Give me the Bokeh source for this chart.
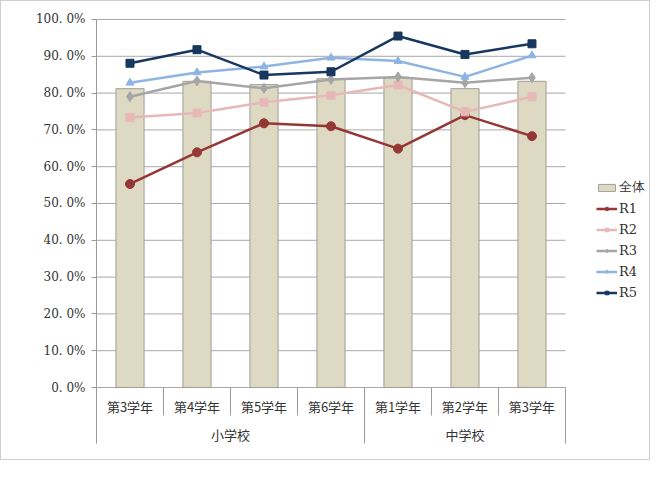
from bokeh.plotting import figure
from bokeh.models import Range1d, FixedTicker, Legend, LegendItem
from bokeh.core.properties import value
from bokeh.embed import file_html
from bokeh.resources import INLINE

# ---- data ----
groups = ["小学校", "小学校", "小学校", "小学校", "中学校", "中学校", "中学校"]
grades = ["第3学年", "第4学年", "第5学年", "第6学年", "第1学年", "第2学年", "第3学年"]
group_names = ["小学校", "中学校"]
total = [81.2, 83.2, 82.3, 83.9, 84.1, 81.2, 83.2]
r1 = [55.3, 63.9, 71.8, 71.0, 64.9, 74.0, 68.3]
r2 = [73.4, 74.6, 77.5, 79.4, 82.2, 74.9, 79.0]
r3 = [79.0, 83.3, 81.3, 83.7, 84.4, 82.8, 84.2]
r4 = [82.8, 85.6, 87.2, 89.6, 88.7, 84.4, 90.2]
r5 = [88.1, 91.8, 84.9, 85.8, 95.5, 90.5, 93.4]
y_ticks = [0, 10, 20, 30, 40, 50, 60, 70, 80, 90, 100]

n = len(grades)
xs = [i + 0.5 for i in range(n)]
group_x = [sum(x for x, g in zip(xs, groups) if g == name) / groups.count(name) for name in group_names]
group_bounds = [0] + [i for i in range(1, n) if groups[i] != groups[i - 1]] + [n]

JP = value("Noto Sans CJK JP")
SERIF = "DejaVu Serif"
TXT = "#333333"
AXC = "#9a9a9a"

p = figure(
    width=650, height=460,
    x_range=Range1d(0, 8.284),
    y_range=Range1d(-15.76, 100.54),
    output_backend="svg", toolbar_location=None,
    min_border_left=95, min_border_right=0, min_border_top=16, min_border_bottom=16,
)
p.styles = {"border": "1px solid #cfcfcf"}
p.outline_line_color = None
p.background_fill_color = "white"
p.border_fill_color = "white"

# axes
p.xaxis.visible = False
p.xgrid.visible = False
p.ygrid.visible = False
yax = p.yaxis[0]
yax.ticker = FixedTicker(ticks=y_ticks)
yax.major_label_overrides = {t: f"{t}. 0%" for t in y_ticks}
yax.bounds = (-15.22, 100)
yax.axis_line_color = AXC
yax.major_tick_line_color = AXC
yax.major_tick_out = 5
yax.major_tick_in = 0
yax.minor_tick_line_color = None
yax.major_label_standoff = 6
yax.major_label_text_font = SERIF
yax.major_label_text_font_size = "12px"
yax.major_label_text_color = TXT

# horizontal grid lines (only across the category area)
p.segment(x0=[0] * len(y_ticks), x1=[n] * len(y_ticks), y0=y_ticks, y1=y_ticks,
          line_color="#a8a8a8", line_width=1)

# bars
bars = p.vbar(x=xs, top=total, width=0.42, bottom=0,
              fill_color="#ddd9c3", line_color="#a09e96", line_width=1)

# category labels / separators
seps = list(range(n + 1))
p.segment(x0=seps, x1=seps, y0=[0] * len(seps),
          y1=[-15.22 if k in group_bounds else -7.61 for k in seps],
          line_color=AXC, line_width=1)
p.text(x=xs, y=[-5.16] * n, text=grades, text_align="center",
       text_baseline="middle", text_font=JP, text_font_size="13px", text_color=TXT)
p.text(x=group_x, y=[-12.77] * len(group_names), text=group_names, text_align="center",
       text_baseline="middle", text_font=JP, text_font_size="13px", text_color=TXT)

# lines
series = [
    ("R1", r1, "#953735", "circle", 9),
    ("R2", r2, "#e6b9b8", "square", 8),
    ("R3", r3, "#a6a6a6", "diamond", 10),
    ("R4", r4, "#8eb4e3", "triangle", 8),
    ("R5", r5, "#17375e", "square", 8),
]
items = [LegendItem(label="全体", renderers=[bars])]
for name, vals, col, mk, sz in series:
    ln = p.line(x=xs, y=vals, line_color=col, line_width=2.5)
    sc = p.scatter(x=xs, y=vals, marker=mk, size=sz, fill_color=col, line_color=col)
    items.append(LegendItem(label=name, renderers=[ln, sc]))

legend = Legend(items=items, location=(500, 143), orientation="vertical")
legend.background_fill_alpha = 0
legend.border_line_color = None
legend.padding = 0
legend.margin = 0
legend.spacing = 1
legend.glyph_width = 21
legend.glyph_height = 9
legend.label_height = 20
legend.label_standoff = 2
legend.label_text_font = SERIF
legend.label_text_font_size = "13px"
legend.label_text_color = TXT
p.add_layout(legend, "center")

open("out.html", "w").write(file_html(p, INLINE))
